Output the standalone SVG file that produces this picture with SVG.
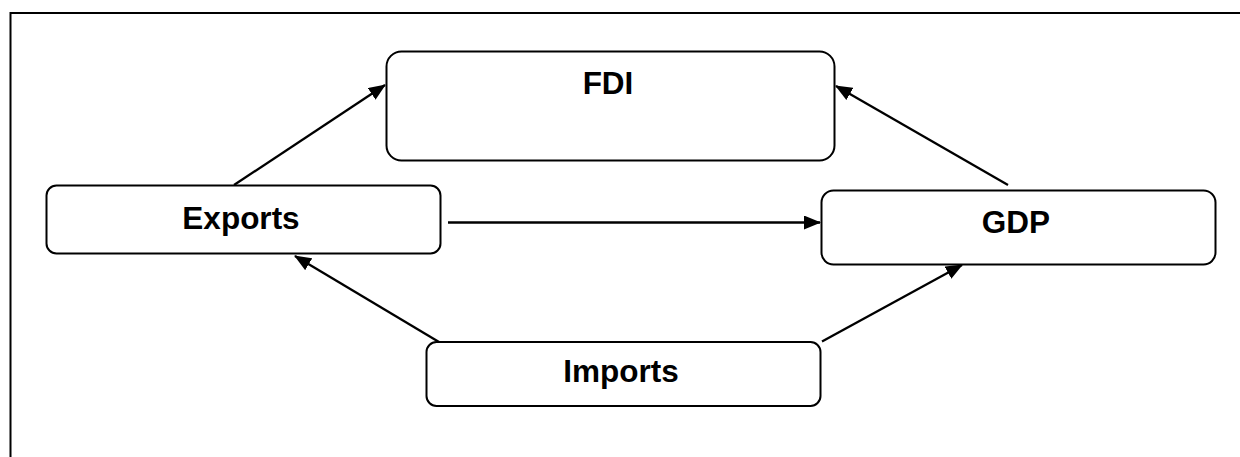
<svg xmlns="http://www.w3.org/2000/svg" width="1240" height="457" viewBox="0 0 1240 457">
<style>
.box{fill:#fff;stroke:#000;stroke-width:2}
.lbl{font-family:"Liberation Sans",Arial,sans-serif;font-weight:bold;font-size:31.5px;text-anchor:middle;fill:#000}
.con{stroke:#000;stroke-width:2.3;fill:none;marker-end:url(#ah)}
</style>
<defs>
<marker id="ah" markerWidth="17" markerHeight="14" refX="16" refY="7" orient="auto" markerUnits="userSpaceOnUse">
<path d="M0,0 L17,7 L0,14 Z" fill="#000"/>
</marker>
</defs>
<rect width="1240" height="457" fill="#fff"/>
<path d="M10.5,457 L10.5,13 L1240,13" fill="none" stroke="#000" stroke-width="2"/>
<g id="connectors">
<line class="con" x1="234" y1="185" x2="385" y2="85"/>
<line class="con" x1="1008" y1="185" x2="836" y2="86"/>
<line class="con" x1="448" y1="222.5" x2="820" y2="222.5"/>
<line class="con" x1="439" y1="342" x2="295" y2="256"/>
<line class="con" x1="822" y1="341.5" x2="962" y2="265"/>
</g>
<g id="fdi">
<rect class="box" x="386.5" y="51.5" width="448" height="109" rx="15"/>
<text class="lbl" x="608" y="94">FDI</text>
</g>
<g id="exports">
<rect class="box" x="46.5" y="185.5" width="394" height="68" rx="10"/>
<text class="lbl" x="241" y="229">Exports</text>
</g>
<g id="gdp">
<rect class="box" x="821.5" y="190.5" width="394" height="74" rx="12"/>
<text class="lbl" x="1016" y="233">GDP</text>
</g>
<g id="imports">
<rect class="box" x="426.5" y="342" width="394" height="64" rx="10"/>
<text class="lbl" x="621" y="382">Imports</text>
</g>
</svg>
